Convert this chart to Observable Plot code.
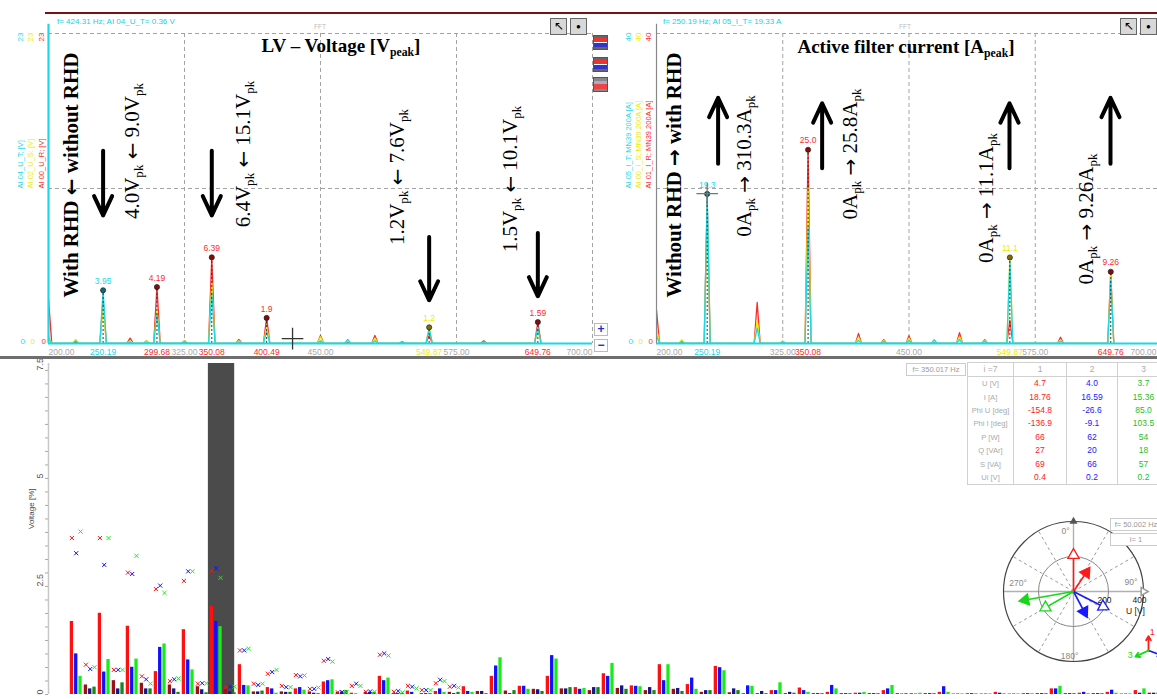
<!DOCTYPE html>
<html>
<head>
<meta charset="utf-8">
<script src="https://cdn.jsdelivr.net/npm/d3@7"></script>
<script src="https://cdn.jsdelivr.net/npm/@observablehq/plot@0.6"></script>
<style>
html,body{margin:0;padding:0;background:#fff;}
#root{position:relative;width:1157px;height:699px;overflow:hidden;background:#fff;font-family:"Liberation Sans",Arial,sans-serif;}
.pl{position:absolute;}
.pl svg{display:block;max-width:none;}
.ann{position:absolute;white-space:nowrap;font-family:"Liberation Serif","Times New Roman",serif;color:#000;line-height:1;transform:translate(-50%,-50%) rotate(-90deg);font-size:21px;}
.ann.b{font-weight:bold;}
.ar{font-family:"DejaVu Sans",sans-serif;font-size:0.95em;}
.ttl{position:absolute;white-space:nowrap;font-family:"Liberation Serif","Times New Roman",serif;font-weight:bold;font-size:19px;line-height:1;transform:translate(-50%,-50%);}
.s{font-size:0.62em;position:relative;top:0.32em;}
.ui{position:absolute;box-sizing:border-box;}
.stat{position:absolute;font-size:8px;color:#20d0e0;white-space:nowrap;line-height:1;}
.fft{position:absolute;font-size:6.5px;color:#bbb;line-height:1;}
.box{position:absolute;box-sizing:border-box;border:1px solid #ccc;background:#fff;font-size:7.5px;color:#999;text-align:center;line-height:11px;white-space:nowrap;overflow:hidden;}
#tbl{position:absolute;left:967px;top:362px;border-collapse:collapse;font-size:8.5px;font-family:"Liberation Sans",Arial,sans-serif;background:#fff;table-layout:fixed;}
#tbl td{padding:0;height:13.4px;text-align:center;border-left:1px solid #d0d0d0;border-right:1px solid #d0d0d0;line-height:13px;white-space:nowrap;overflow:hidden;}
#tbl tr.h td{border:1px solid #d0d0d0;height:13px;color:#aaa;}
#tbl tr:last-child td{border-bottom:1px solid #d0d0d0;}
#tbl td.l{color:#aaa;font-size:7.6px;}
</style>
</head>
<body>
<div id="root"></div>
<script>
// ===================== DATA =====================
// FFT frequency axis ticks [Hz]
const fftFreqTicks = [200, 325, 450, 575, 700];

// LV voltage spectrum: line frequencies [Hz] and peak amplitudes [Vpeak] per channel
const uFreqs = [200, 225, 250.19, 275, 290, 299.68, 325, 350.08, 375, 400.49, 450, 475, 500, 525, 549.87, 600, 649.76];
const uT = [0.4, 0.2, 3.95, 0.1, 0.1, 2.2, 0.15, 3.8, 0.1, 0.9, 0.2, 0.3, 0.2, 0.1, 1.1, 0.05, 1.2];
const uS = [0.6, 0.3, 2.8, 0.2, 0.2, 2.5, 0.2, 4.5, 0.2, 1.2, 0.5, 0.2, 0.4, 0.1, 1.2, 0.1, 1.0];
const uR = [3.3, 0.1, 3.2, 0.4, 0.2, 4.19, 0.2, 6.39, 0.3, 1.9, 0.6, 0.1, 0.6, 0.15, 0.6, 0.2, 1.59];
const uYMax = 23;
const uPeakFreqs = [250.19, 299.68, 350.08, 400.49, 549.87, 649.76];
const uPeakVals = [3.95, 4.19, 6.39, 1.9, 1.2, 1.59];
const uPeakLabels = ["3.95", "4.19", "6.39", "1.9", "1.2", "1.59"];
const uPeakChan = ["T", "R", "R", "R", "S", "R"];
const uCursor = {f: 424.31, v: 0.36};
const uNames = ["AI 04_U_T; [V]", "AI 02_U_S; [V]", "AI 00_U_R; [V]"];

// Active filter current spectrum [Apeak]
const iFreqs = [200, 225, 250.19, 299.68, 325, 350.08, 400, 425, 450, 475, 500, 525, 549.87, 600, 649.76];
const iT = [1.0, 0.3, 19.3, 2.0, 0.2, 15.0, 0.4, 0.3, 0.4, 0.5, 0.5, 0.3, 10.6, 0.3, 8.2];
const iS = [2.0, 0.5, 17.5, 3.0, 0.3, 20.0, 0.8, 0.4, 0.7, 0.3, 0.9, 0.4, 11.1, 0.5, 8.8];
const iR = [4.3, 0.2, 18.6, 5.3, 0.3, 25.0, 1.3, 0.5, 1.0, 0.2, 1.4, 0.5, 3.0, 0.8, 9.26];
const iYMax = 40;
const iPeakFreqs = [250.19, 350.08, 549.87, 649.76];
const iPeakVals = [19.3, 25.0, 11.1, 9.26];
const iPeakLabels = ["19.3", "25.0", "11.1", "9.26"];
const iPeakChan = ["T", "R", "S", "R"];
const iCursor = {f: 250.19, v: 19.33};
const iNames = ["AI 05_I_T; MN39 200A [A]", "AI 00_I_S; MN39 200A [A]", "AI 01_I_R; MN39 200A [A]"];

// Annotation arrows (frequency, start value, end value)
const uArrowF = [250.19, 350.08, 549.87, 649.76];
const uArrowFrom = [14.3, 14.3, 7.9, 8.2];
const uArrowTo = [9.5, 9.5, 3.2, 3.5];
const iArrowF = [261, 364, 549.5, 649.5];
const iArrowFrom = [23.2, 22.6, 22.6, 23.2];
const iArrowTo = [31.7, 31.0, 31.0, 31.7];

// Harmonic spectrum (bottom): orders, bar values [%] per phase, x-marker values [%]
const orders = [2,2.5,3,3.5,4,4.5,5,5.5,6,6.5,7,7.5,8,8.5,9,9.5,10,10.5,11,11.5,12,12.5,13,13.5,14,14.5,15,15.5,16,16.5,17,17.5,18,18.5,19,19.5,20,20.5,21,21.5,22,22.5,23,23.5,24,24.5,25,25.5,26,26.5,27,27.5,28,28.5,29,29.5,30,30.5,31,31.5,32,32.5,33,33.5,34,34.5,35,35.5,36,36.5,37,37.5,38,38.5,39,39.5,40,40.5];
const barR = [1.69,0.22,1.88,0.32,1.58,0.26,0.53,0.22,1.50,0.18, 2.04,0.11,0.69,0.06,0.16,0.06,0.13,0.06,0.29,0.05, 0.03,0.05,0.42,0.02,0.08,0.02,0.07,0.05,0.18,0.07, 0.42,0.08,0.19,0.12,0.42,0.13,0.16,0.09,0.48,0.14, 0.20,0.09,0.69,0.12,0.23,0.05,0.65,0.04,0.02,0.02, 0.09,0.02,0.15,0.02,0.05,0.02,0.03,0.02,0.09,0.02, 0.02,0.02,0.05,0.01,0.02,0.01,0.05,0.01,0.02,0.02, 0.13,0.02,0.03,0.02,0.05,0.01,0.09,0.03];
const barB = [0.94,0.13,0.52,0.13,0.63,0.13,1.09,0.13,0.80,0.11, 1.69,0.06,0.21,0.06,0.13,0.05,0.16,0.03,0.32,0.06, 0.01,0.05,0.32,0.02,0.05,0.02,0.13,0.02,0.07,0.07, 0.66,0.02,0.19,0.11,0.90,0.13,0.12,0.16,0.42,0.20, 0.19,0.16,0.32,0.14,0.38,0.09,0.62,0.13,0.20,0.07, 0.09,0.05,0.09,0.02,0.21,0.02,0.03,0.02,0.13,0.01, 0.01,0.02,0.18,0.01,0.02,0.01,0.03,0.01,0.02,0.02, 0.13,0.02,0.05,0.02,0.10,0.01,0.03,0.03];
const barG = [0.42,0.17,0.81,0.27,0.82,0.13,1.17,0.05,0.57,0.04, 1.57,0.04,0.20,0.08,0.03,0.05,0.10,0.02,0.34,0.09, 0.00,0.05,0.38,0.03,0.00,0.02,0.05,0.05,0.05,0.02, 0.85,0.09,0.12,0.07,0.82,0.16,0.14,0.16,0.72,0.12, 0.18,0.09,0.69,0.07,0.12,0.09,0.55,0.09,0.19,0.02, 0.27,0.03,0.05,0.02,0.13,0.02,0.05,0.02,0.21,0.02, 0.03,0.02,0.05,0.01,0.02,0.01,0.02,0.01,0.02,0.02, 0.19,0.02,0.02,0.02,0.03,0.01,0.13,0.03];
// x markers (first 28 orders only)
const markR = [3.62,0.69,3.62,0.57,2.82,0.42,2.44,0.31,2.63,0.25, 2.86,0.17,1.02,0.25,0.48,0.20,0.45,0.13,0.78,0.05, 0.20,0.06,0.92,0.06,0.20,0.10,0.26,0.18];
const markB = [3.27,0.59,3.00,0.57,2.79,0.35,2.52,0.35,2.85,0.26, 2.92,0.18,1.02,0.22,0.52,0.17,0.42,0.13,0.82,0.06, 0.25,0.07,0.95,0.08,0.18,0.10,0.34,0.20];
const markG = [3.77,0.63,3.62,0.57,3.21,0.25,2.35,0.37,2.85,0.26, 2.70,0.18,1.06,0.25,0.57,0.17,0.44,0.16,0.76,0.05, 0.20,0.06,0.90,0.05,0.14,0.10,0.31,0.16];
const selectedOrder = 7;
const selectedBand = {from: 6.72, to: 7.66};
const voltageTicks = [0, 2.5, 5, 7.5];

// Table for i = 7
const tableFreq = "f= 350.017 Hz";
const tableHeader = ["i =7", "1", "2", "3"];
const tableRowLabels = ["U [V]", "I [A]", "Phi U [deg]", "Phi I [deg]", "P [W]", "Q [VAr]", "S [VA]", "Ui [V]"];
const tablePhase1 = ["4.7", "18.76", "-154.8", "-136.9", "66", "27", "69", "0.4"];
const tablePhase2 = ["4.0", "16.59", "-26.6", "-9.1", "62", "20", "66", "0.2"];
const tablePhase3 = ["3.7", "15.36", "85.0", "103.5", "54", "18", "57", "0.2"];

// Phasor diagram (fundamental)
const polarRings = [200, 400];
const polarAxesDeg = [0, 90, 180, 270];
const polarAxisLabels = ["0°", "90°", "180°", "270°"];
const polarSpokesDeg = [30, 60, 120, 150, 210, 240, 300, 330];
const phasorU = [228, 210, 205];
const phasorUDeg = [0, 117, 240];
const phasorI = [150, 150, 300];
const phasorIDeg = [34, 152, 260];
const phasorFreq = "f= 50.002 Hz";
const phasorOrder = "i= 1";

// ===================== STYLE =====================
const SANS = "Liberation Sans, Arial, sans-serif";
const COL = {T: "#1ad8e8", S: "#ecec00", R: "#ff2a2a"};
const DARK = {T: "#0e6a72", S: "#7a7000", R: "#840c0c"};
const BAR = ["#ff1010", "#1010ff", "#18ec18"];
const BAR_DARK = ["#9a1212", "#16168c", "#168a16"];
const PH = ["#ff1a1a", "#1a1aff", "#16d816"];

const root = document.getElementById("root");
function place(el, left, top, w) {
  const d = document.createElement("div");
  d.className = "pl";
  d.style.left = left + "px"; d.style.top = top + "px"; d.style.width = w + "px";
  d.appendChild(el); root.appendChild(d);
  return d;
}
function div(cls, left, top, w, h, html, extra) {
  const d = document.createElement("div");
  d.className = cls;
  d.style.left = left + "px"; d.style.top = top + "px";
  if (w != null) d.style.width = w + "px";
  if (h != null) d.style.height = h + "px";
  if (html != null) d.innerHTML = html;
  if (extra) Object.assign(d.style, extra);
  root.appendChild(d);
  return d;
}
const plotStyle = {background: "transparent", maxWidth: "none", overflow: "visible", fontFamily: SANS};

// ===================== FFT PANELS =====================
function spectrum(freqs, amps, hw) {
  const pts = [];
  freqs.forEach((f, i) => { pts.push({f: f - hw, v: 0}, {f, v: amps[i]}, {f: f + hw, v: 0}); });
  return pts;
}

function fftPanel(o) {
  const peaks = o.peakFreqs.map((f, i) => ({f, v: o.peakVals[i], label: o.peakLabels[i], c: o.peakChan[i]}));
  const arrows = o.arrowF.map((f, i) => ({f, from: o.arrowFrom[i], to: o.arrowTo[i]}));
  const series = {R: o.R, S: o.S, T: o.T};
  const chanOrder = ["T", "S", "R"];
  const tickTxt = d => d.toFixed(2);
  return Plot.plot({
    width: o.width, height: 357,
    marginLeft: o.ml, marginRight: o.mr, marginTop: 33, marginBottom: 14,
    style: plotStyle,
    x: {domain: [200, 700], axis: null},
    y: {domain: [0, o.ymax], axis: null},
    color: {type: "identity"},
    marks: [
      Plot.ruleX(fftFreqTicks.slice(1), {stroke: "#a3a3a3", strokeDasharray: "4,3"}),
      Plot.ruleY([o.ymax / 2, o.ymax], {stroke: "#a3a3a3", strokeDasharray: "4,3"}),
      ...["R", "S", "T"].map(c => Plot.line(spectrum(o.freqs, series[c], 3), {x: "f", y: "v", stroke: COL[c], strokeWidth: 1.3, clip: true})),
      Plot.ruleX(peaks, {x: "f", y1: 0, y2: "v", stroke: "#333", strokeDasharray: "2,2", strokeWidth: 1}),
      Plot.ruleY([0], {stroke: COL.T, strokeWidth: 2.2}),
      Plot.ruleX([200], {y1: 0, y2: o.ymax * 1.03, stroke: o.axisColor, strokeWidth: o.axisWidth}),
      Plot.dot(peaks, {x: "f", y: "v", r: 2.6, fill: d => DARK[d.c], stroke: "#111", strokeWidth: 0.6}),
      Plot.text(peaks, {x: "f", y: "v", text: "label", dy: -9, fill: d => COL[d.c], fontSize: 8.5}),
      Plot.text([fftFreqTicks[0]], {x: d => d, y: 0, text: tickTxt, dy: 9, textAnchor: "start", fill: "#aaa", fontSize: 8.5}),
      Plot.text(fftFreqTicks.slice(1, -1), {x: d => d, y: 0, text: tickTxt, dy: 9, fill: "#aaa", fontSize: 8.5}),
      Plot.text(fftFreqTicks.slice(-1), {x: d => d, y: 0, text: tickTxt, dx: o.lastDx, dy: 9, textAnchor: "end", fill: "#aaa", fontSize: 8.5}),
      Plot.text(peaks, {x: "f", y: 0, text: d => d.f.toFixed(2), dy: 9, fill: d => COL[d.c], fontSize: 8.5}),
      ...chanOrder.map((c, k) => Plot.text([o.names[k]], {frameAnchor: "left", dx: o.nameDx[k], rotate: -90, text: d => d, fill: COL[c], fontSize: 7.5})),
      ...chanOrder.map((c, k) => Plot.text([o.ymax], {y: d => d, frameAnchor: "left", dx: o.nameDx[k], dy: 8, rotate: -90, text: d => String(d), fill: COL[c], fontSize: 8})),
      ...chanOrder.map((c, k) => Plot.text([0], {y: d => d, frameAnchor: "left", dx: o.nameDx[k], dy: -2, text: d => String(d), fill: COL[c], fontSize: 8})),
      Plot.dot([o.cursor], {x: "f", y: "v", symbol: "plus", r: 7, stroke: o.cursorColor, strokeWidth: 1.3}),
      Plot.arrow(arrows, {x1: "f", x2: "f", y1: "from", y2: "to", stroke: "#000", strokeWidth: 4, headLength: 8, headAngle: 50})
    ]
  });
}

place(fftPanel({
  width: 610, ml: 48, mr: 18, ymax: uYMax, freqs: uFreqs, T: uT, S: uS, R: uR,
  peakFreqs: uPeakFreqs, peakVals: uPeakVals, peakLabels: uPeakLabels, peakChan: uPeakChan,
  cursor: uCursor, cursorColor: "#333", names: uNames, nameDx: [-28, -18, -7], lastDx: 0,
  axisColor: COL.T, axisWidth: 2.2, arrowF: uArrowF, arrowFrom: uArrowFrom, arrowTo: uArrowTo
}), 0, 0, 610);

place(fftPanel({
  width: 551, ml: 46, mr: 0, ymax: iYMax, freqs: iFreqs, T: iT, S: iS, R: iR,
  peakFreqs: iPeakFreqs, peakVals: iPeakVals, peakLabels: iPeakLabels, peakChan: iPeakChan,
  cursor: iCursor, cursorColor: "#777", names: iNames, nameDx: [-28, -18, -8], lastDx: -5,
  axisColor: "#888", axisWidth: 1.2, arrowF: iArrowF, arrowFrom: iArrowFrom, arrowTo: iArrowTo
}), 610, 0, 551);

// ===================== HARMONIC BARS =====================
const bars = [], marks3 = [];
const markArrs = [markR, markB, markG];
orders.forEach((h, i) => {
  const half = h % 1 !== 0;
  [barR, barB, barG].forEach((arr, k) => {
    bars.push({h, k, v: arr[i], fill: half ? BAR_DARK[k] : BAR[k]});
    const m = markArrs[k][i];
    if (m != null) marks3.push({h, k, v: m, stroke: BAR[k]});
  });
});
const OFF = 0.154, BW = 0.118;
const yTop = 7.66;
const minorTicks = d3.range(0, 7.5001, 0.3125);
const barPlot = Plot.plot({
  width: 1157, height: 339, marginLeft: 48, marginRight: 0, marginTop: 3, marginBottom: 5,
  style: plotStyle,
  x: {domain: [1.01, 40.62], axis: null},
  y: {domain: [0, yTop], axis: null},
  color: {type: "identity"},
  marks: [
    Plot.rect([selectedBand], {x1: "from", x2: "to", y1: 0, y2: yTop, fill: "#4b4b4b"}),
    Plot.rect(bars, {x1: d => d.h + (d.k - 1) * OFF - BW / 2, x2: d => d.h + (d.k - 1) * OFF + BW / 2, y1: 0, y2: "v", fill: "fill"}),
    Plot.dot(marks3, {x: d => d.h + (d.k - 1) * OFF, y: "v", symbol: "times", r: 2, stroke: "stroke", strokeWidth: 1}),
    Plot.ruleX([1.01], {y1: 0, y2: yTop, stroke: "#c8c8c8", strokeWidth: 1.5}),
    Plot.axisY({ticks: minorTicks, tickSize: 3, tickFormat: () => "", label: null, stroke: "#aaa"}),
    Plot.text(voltageTicks, {y: d => d, frameAnchor: "left", dx: -8, rotate: -90, text: d => String(d), fill: "#555", fontSize: 9}),
    Plot.text(["Voltage [%]"], {frameAnchor: "left", dx: -17, rotate: -90, text: d => d, fill: "#444", fontSize: 8})
  ]
});
place(barPlot, 0, 360, 1157);

// ===================== PHASOR DIAGRAM =====================
const PR = 400, PSIZE = 160, PM = 10, PPX = (PSIZE - 2 * PM) / 2;
const rad = Math.PI / 180;
const px = (r, a) => r * Math.sin(a * rad), py = (r, a) => r * Math.cos(a * rad);
const phasors = [];
PH.forEach((c, i) => {
  phasors.push({kind: "U", c, r: phasorU[i], a: phasorUDeg[i]});
  phasors.push({kind: "I", c, r: phasorI[i], a: phasorIDeg[i]});
});
const headBack = 3.5 * PR / PPX;
const angleOff = [[-8, 0], [-3, -9], [-4, 4], [5, -8]];
const polar = Plot.plot({
  width: PSIZE, height: PSIZE, margin: PM,
  style: plotStyle,
  x: {domain: [-PR, PR], axis: null}, y: {domain: [-PR, PR], axis: null},
  color: {type: "identity"}, r: {type: "identity"},
  marks: [
    Plot.link(polarSpokesDeg, {x1: 0, y1: 0, x2: a => px(PR, a), y2: a => py(PR, a), stroke: "#9a9a9a", strokeDasharray: "3,3"}),
    Plot.link(polarAxesDeg, {x1: 0, y1: 0, x2: a => px(PR, a), y2: a => py(PR, a), stroke: "#b0b0b0", strokeWidth: 1.4}),
    Plot.dot(polarRings.slice(0, 1), {x: 0, y: 0, r: d => d / PR * PPX, fill: "none", stroke: "#888", strokeWidth: 1}),
    Plot.dot(polarRings.slice(1), {x: 0, y: 0, r: d => d / PR * PPX, fill: "none", stroke: "#444", strokeWidth: 1.2}),
    ...polarAxisLabels.map((t, i) => Plot.text([t], {x: px(345, polarAxesDeg[i]), y: py(345, polarAxesDeg[i]), text: d => d, dx: angleOff[i][0], dy: angleOff[i][1], fill: "#888", fontSize: 8.5})),
    Plot.text(polarRings, {x: d => d, y: 0, text: d => String(d), dx: -4, dy: 9, fill: "#222", fontSize: 8.5}),
    Plot.text(["U [V]"], {x: PR, y: 0, text: d => d, dx: -8, dy: 20, fill: "#222", fontSize: 8.5}),
    Plot.dot([PR], {x: d => d, y: 0, symbol: "triangle", rotate: 90, r: 3, fill: "white", stroke: "#999"}),
    Plot.dot([PR], {x: 0, y: d => d, symbol: "triangle", rotate: 0, r: 3, fill: "#555"}),
    Plot.link(phasors, {x1: 0, y1: 0, x2: d => px(d.r - headBack * 0.6, d.a), y2: d => py(d.r - headBack * 0.6, d.a), stroke: "c", strokeWidth: 1.6}),
    Plot.dot(phasors, {x: d => px(d.r - headBack, d.a), y: d => py(d.r - headBack, d.a), symbol: "triangle", rotate: "a", r: 4.2, fill: d => d.kind === "U" ? "white" : d.c, stroke: "c", strokeWidth: 1.3})
  ]
});
place(polar, 1073 - PSIZE / 2, 591 - PSIZE / 2, PSIZE);

// mini 3-phase icon
const mini = Plot.plot({
  width: 40, height: 40, margin: 0, style: plotStyle,
  x: {domain: [-1, 1], axis: null}, y: {domain: [-1, 1], axis: null},
  color: {type: "identity"},
  marks: [
    Plot.arrow(PH.map((c, i) => ({c, a: [0, 110, 245][i]})), {x1: 0, y1: 0, x2: d => px(0.72, d.a), y2: d => py(0.72, d.a), stroke: "c", strokeWidth: 1.8, headLength: 4, headAngle: 60}),
    Plot.text(["1"], {x: px(0.6, 18), y: py(0.95, 18), text: d => d, fill: PH[0], fontSize: 9}),
    Plot.text(["3"], {x: px(0.95, 255), y: py(0.95, 255), text: d => d, fill: PH[2], fontSize: 9})
  ]
});
place(mini, 1128, 630, 40);

// ===================== TABLE =====================
(function () {
  const t = document.createElement("table");
  t.id = "tbl";
  const widths = [46, 53, 51, 52];
  let html = "<colgroup>" + widths.map(w => `<col style="width:${w}px">`).join("") + "</colgroup>";
  html += "<tr class='h'>" + tableHeader.map(h => `<td>${h}</td>`).join("") + "</tr>";
  const cols = [tablePhase1, tablePhase2, tablePhase3];
  const colColors = ["#ff2020", "#2020ff", "#1ec01e"];
  tableRowLabels.forEach((lab, r) => {
    html += `<tr><td class="l">${lab}</td>` + cols.map((c, k) => `<td style="color:${colColors[k]}">${c[r]}</td>`).join("") + "</tr>";
  });
  t.innerHTML = html;
  t.style.width = widths.reduce((a, b) => a + b, 0) + "px";
  root.appendChild(t);
})();
div("box", 906, 363, 60, 13, tableFreq);
div("box", 1110, 518, 52, 13, phasorFreq);
div("box", 1110, 533, 52, 13, phasorOrder);

// ===================== FRAME / UI CHROME =====================
div("ui", 45, 12, 1112, 2, null, {background: "#7a1010"});
div("ui", 0, 356, 1157, 3, null, {background: "#6e6e6e"});
div("stat", 57, 18, null, null, `f= ${uCursor.f} Hz; AI 04_U_T= ${uCursor.v} V`);
div("stat", 663, 18, null, null, `f= ${iCursor.f} Hz; AI 05_I_T= ${iCursor.v} A`);
div("fft", 314, 24, null, null, "FFT");
div("fft", 899, 24, null, null, "FFT");
[[550, 18], [570, 18], [1120, 18], [1140, 18]].forEach(([x, y], i) => {
  div("ui", x, y, 17, 17, i % 2 === 0 ? "&#8598;" : "&#9679;", {background: "#d8d8d8", border: "1px solid #666", fontSize: i % 2 === 0 ? "12px" : "8px", lineHeight: "15px", textAlign: "center", color: "#000"});
});
[35, 57, 77].forEach((y, i) => {
  div("ui", 593, y, 15, 15, null, {background: i < 2 ? "linear-gradient(#666 0 15%, #e33 15% 45%, #fff 45% 55%, #33c 55% 85%, #666 85%)" : "linear-gradient(#888 0 20%, #aac 20% 50%, #e44 50% 85%, #888 85%)", border: "1px solid #555"});
});
div("ui", 594, 323, 14, 13, "+", {border: "1px solid #bbb", background: "#fff", color: "#2030c0", fontWeight: "bold", fontSize: "12px", lineHeight: "11px", textAlign: "center"});
div("ui", 594, 339, 14, 13, "&minus;", {border: "1px solid #bbb", background: "#fff", color: "#2030c0", fontWeight: "bold", fontSize: "12px", lineHeight: "11px", textAlign: "center"});

// ===================== ANNOTATIONS =====================
const sub = s => `<span class="s">${s}</span>`;
const arw = c => `<span class="ar">${c}</span>`;
const L = arw("←"), Rr = arw("→");
div("ttl", 341, 45, null, null, `LV – Voltage [V${sub("peak")}]`);
div("ttl", 906, 46, null, null, `Active filter current [A${sub("peak")}]`);
const rotated = [
  {x: 71, y: 175, b: true, t: `With RHD ${L} without RHD`},
  {x: 132, y: 151, t: `4.0V${sub("pk")} ${L} 9.0V${sub("pk")}`},
  {x: 243, y: 154, t: `6.4V${sub("pk")} ${L} 15.1V${sub("pk")}`},
  {x: 397, y: 177, t: `1.2V${sub("pk")} ${L} 7.6V${sub("pk")}`},
  {x: 510, y: 179, t: `1.5V${sub("pk")} ${L} 10.1V${sub("pk")}`},
  {x: 674, y: 175, b: true, t: `Without RHD ${Rr} with RHD`},
  {x: 744, y: 166, t: `0A${sub("pk")} ${Rr} 310.3A${sub("pk")}`},
  {x: 850, y: 154, t: `0A${sub("pk")} ${Rr} 25.8A${sub("pk")}`},
  {x: 986, y: 198, t: `0A${sub("pk")} ${Rr} 11.1A${sub("pk")}`},
  {x: 1086, y: 219, t: `0A${sub("pk")} ${Rr} 9.26A${sub("pk")}`}
];
rotated.forEach(a => div("ann" + (a.b ? " b" : ""), a.x, a.y, null, null, a.t));
</script>
</body>
</html>
